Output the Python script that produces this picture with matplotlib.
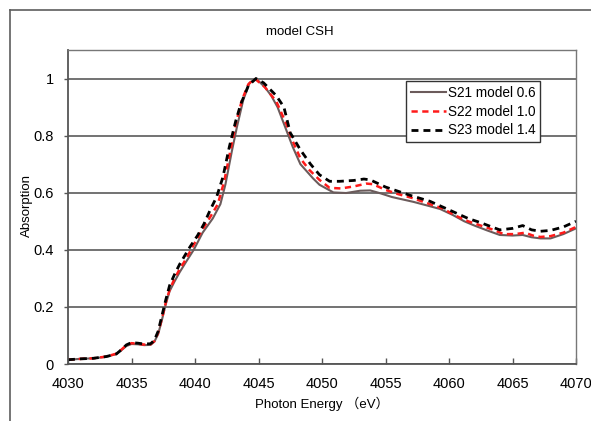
import numpy as np
import matplotlib
matplotlib.use('Agg')
import matplotlib.pyplot as plt
from matplotlib.lines import Line2D

plt.rcParams['font.family'] = ['Liberation Sans', 'Noto Sans CJK JP', 'DejaVu Sans']

# S21 model 0.6 (grey solid)
e_s21 = [4030, 4031, 4032, 4033, 4033.8, 4034.2, 4034.6, 4035.0, 4035.5, 4036.0, 4036.5, 4036.8,
         4037.1, 4037.4, 4037.7, 4038.0, 4038.4, 4038.8, 4039.3, 4039.9, 4040.6, 4041.4, 4042.0,
         4042.4, 4042.9, 4043.3, 4043.8, 4044.3, 4044.8, 4045.5, 4046.0, 4046.5, 4047.1, 4047.7,
         4048.3, 4048.8, 4049.3, 4049.8, 4050.9, 4051.9, 4053.0, 4053.8, 4054.6, 4055.5, 4056.5,
         4057.2, 4058.3, 4059.3, 4060.3, 4061.2, 4062.0, 4063.0, 4064.0, 4065.0, 4065.8, 4066.5,
         4067.2, 4068.0, 4069.0, 4070]
a_s21 = [0.015, 0.018, 0.02, 0.025, 0.035, 0.048, 0.063, 0.07, 0.069, 0.066, 0.067, 0.078,
         0.105, 0.155, 0.21, 0.255, 0.29, 0.322, 0.358, 0.40, 0.46, 0.51, 0.56,
         0.63, 0.745, 0.83, 0.925, 0.985, 1.0, 0.97, 0.94, 0.9, 0.83, 0.76,
         0.70, 0.675, 0.65, 0.628, 0.601, 0.599, 0.607, 0.608, 0.598, 0.585, 0.575,
         0.568, 0.555, 0.543, 0.522, 0.5, 0.485, 0.468, 0.452, 0.45, 0.452, 0.444,
         0.44, 0.44, 0.455, 0.475]

# S22 model 1.0 (red dashed)
e_s22 = [4030, 4031, 4032, 4033, 4033.8, 4034.2, 4034.6, 4035.0, 4035.5, 4036.0, 4036.5, 4036.8,
         4037.1, 4037.4, 4037.7, 4038.0, 4038.4, 4038.8, 4039.3, 4039.8, 4040.5, 4041.2, 4041.8,
         4042.3, 4042.8, 4043.2, 4043.7, 4044.2, 4044.7, 4045.5, 4046.4, 4047.2, 4047.7, 4048.3,
         4049.0, 4049.8, 4050.6, 4051.5, 4052.5, 4053.5, 4054.0, 4055.0, 4056.0, 4057.0, 4058.5,
         4059.5, 4060.5, 4061.5, 4062.5, 4063.5, 4064.3, 4065.2, 4066.0, 4066.6, 4067.2, 4068.0,
         4069.0, 4070]
a_s22 = [0.015, 0.018, 0.02, 0.026, 0.036, 0.05, 0.066, 0.073, 0.071, 0.068, 0.069, 0.08,
         0.11, 0.16, 0.215, 0.26, 0.30, 0.333, 0.368, 0.41, 0.465, 0.515, 0.56,
         0.64, 0.75, 0.84, 0.925, 0.98, 1.0, 0.97, 0.92, 0.84, 0.78, 0.72,
         0.68, 0.645, 0.617, 0.615, 0.622, 0.632, 0.63, 0.61, 0.595, 0.583, 0.56,
         0.545, 0.52, 0.5, 0.485, 0.47, 0.455, 0.455, 0.46, 0.45, 0.445, 0.448,
         0.46, 0.48]

# S23 model 1.4 (black dashed)
e_s23 = [4030, 4031, 4032, 4033, 4033.8, 4034.2, 4034.6, 4035.0, 4035.5, 4036.0, 4036.5, 4036.8,
         4037.1, 4037.4, 4037.7, 4038.0, 4038.4, 4038.8, 4039.2, 4039.6, 4040.2, 4040.7, 4041.2,
         4041.7, 4042.2, 4042.7, 4043.2, 4043.6, 4044.2, 4044.8, 4045.4, 4046.4, 4047.0, 4047.5,
         4048.3, 4049.1, 4049.8, 4050.6, 4051.4, 4052.5, 4053.3, 4053.8, 4055.0, 4056.0, 4057.0,
         4058.5, 4059.5, 4060.5, 4061.5, 4062.5, 4063.5, 4064.0, 4065.0, 4065.8, 4066.5, 4067.2,
         4068.0, 4069.0, 4070]
a_s23 = [0.015, 0.018, 0.02, 0.026, 0.035, 0.05, 0.067, 0.075, 0.073, 0.07, 0.071, 0.083,
         0.115, 0.17, 0.225, 0.275, 0.315, 0.35, 0.38, 0.41, 0.45, 0.49, 0.54,
         0.585, 0.655, 0.76, 0.85, 0.91, 0.975, 1.0, 0.985, 0.94, 0.9, 0.81,
         0.75, 0.70, 0.663, 0.64, 0.64, 0.643, 0.648, 0.645, 0.62, 0.605, 0.59,
         0.57, 0.55, 0.53, 0.51, 0.495, 0.478, 0.47, 0.475, 0.485, 0.47, 0.465,
         0.468, 0.48, 0.50]

series_names = ['S21 model 0.6', 'S22 model 1.0', 'S23 model 1.4']
x_ticks = [4030, 4035, 4040, 4045, 4050, 4055, 4060, 4065, 4070]
y_ticks = [0, 0.2, 0.4, 0.6, 0.8, 1.0]
y_tick_labels = ['0', '0.2', '0.4', '0.6', '0.8', '1']

fig = plt.figure(figsize=(5.91, 4.21), dpi=100)
ax = fig.add_axes([68 / 591, 57 / 421, 508 / 591, 314 / 421])

# Chart area frame (Excel style, runs off the right and bottom edges)
fig.add_artist(Line2D([10 / 591, 1], [1 - 10 / 421, 1 - 10 / 421], color='#5e5e5e', lw=1.2))
fig.add_artist(Line2D([10 / 591, 10 / 591], [0, 1 - 10 / 421], color='#5e5e5e', lw=1.2))

ax.set_axisbelow(True)
ax.yaxis.grid(True, color='#5a5a5a', lw=1.2)

ax.plot(e_s21, a_s21, color='#6b5b5b', lw=1.5, label=series_names[0])
ax.plot(e_s22, a_s22, color='#ff1a1a', lw=1.8, dashes=(2.5, 1.8), label=series_names[1])
ax.plot(e_s23, a_s23, color='black', lw=2.0, dashes=(2.5, 1.8), label=series_names[2])

ax.set_xlim(4030, 4070)
ax.set_ylim(0, 1.1)
ax.set_xticks(x_ticks)
ax.set_yticks(y_ticks)
ax.set_yticklabels(y_tick_labels)
ax.tick_params(axis='x', direction='in', length=4, width=1, color='#555555', labelsize=10.5, pad=9)
ax.tick_params(axis='y', direction='out', length=3, width=1, color='#555555', labelsize=10.5, pad=7)

for side in ['left', 'bottom']:
    ax.spines[side].set_color('#555555')
    ax.spines[side].set_linewidth(1.3)
for side in ['top', 'right']:
    ax.spines[side].set_color('#777777')
    ax.spines[side].set_linewidth(1.0)

fig.text(300 / 591, 1 - 32 / 421, 'model CSH', ha='center', va='center', fontsize=9.5)
fig.text(322 / 591, 1 - 404 / 421, 'Photon Energy （eV）', ha='center', va='center', fontsize=9.5)
fig.text(27 / 591, 1 - 205 / 421, 'Absorption', ha='center', va='center', rotation=90, fontsize=9.5)

leg = ax.legend(loc='upper left', bbox_to_anchor=(406 / 591, 1 - 81 / 421), bbox_transform=fig.transFigure,
                fancybox=False, frameon=True, edgecolor='#333333', framealpha=1, fontsize=9.8,
                handlelength=2.6, handletextpad=0.1, borderpad=0.35, labelspacing=0.35, borderaxespad=0)
leg.get_frame().set_linewidth(1.0)

plt.savefig('out.png', dpi=100)
plt.close(fig)
